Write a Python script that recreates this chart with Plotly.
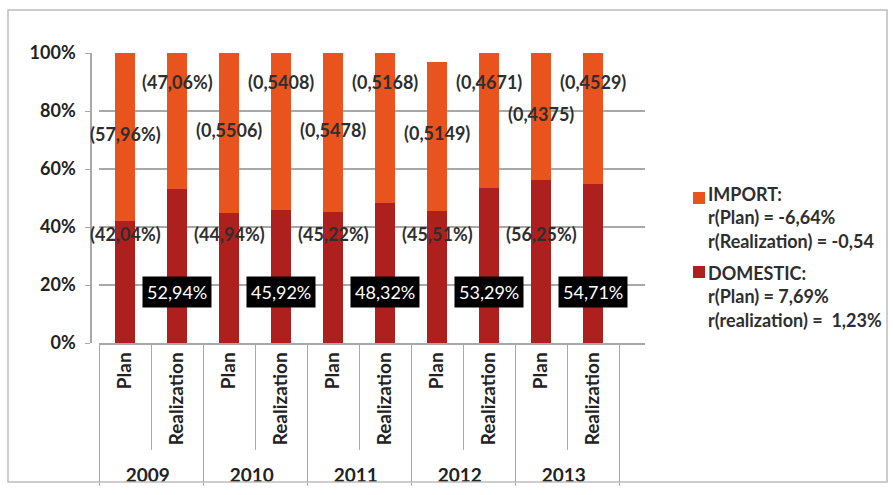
import plotly.graph_objects as go

# ---- data ----
years = ["2009", "2009", "2010", "2010", "2011", "2011", "2012", "2012", "2013", "2013"]
kinds = ["Plan", "Realization"] * 5
domestic = [42.04, 52.94, 44.94, 45.92, 45.22, 48.32, 45.51, 53.29, 56.25, 54.71]
imports = [57.96, 47.06, 55.06, 54.08, 54.78, 51.68, 51.49, 46.71, 43.75, 45.29]
domestic_text = ["(42,04%)", "52,94%", "(44,94%)", "45,92%", "(45,22%)", "48,32%",
                 "(45,51%)", "53,29%", "(56,25%)", "54,71%"]
import_text = ["(57,96%)", "(47,06%)", "(0,5506)", "(0,5408)", "(0,5478)", "(0,5168)",
               "(0,5149)", "(0,4671)", "(0,4375)", "(0,4529)"]
legend_import = ["IMPORT:", "r(Plan) = -6,64%", "r(Realization) = -0,54"]
legend_domestic = ["DOMESTIC:", "r(Plan) = 7,69%", "r(realization) =  1,23%"]
y_ticks = [0, 20, 40, 60, 80, 100]
y_tick_labels = ["0%", "20%", "40%", "60%", "80%", "100%"]

# ---- layout constants (pixels) ----
W, H = 893, 495
L, R, T, B = 91, 248, 53, 152
PW, PH = W - L - R, H - T - B
X0 = 99  # left edge of category area
FONT = "Lato, 'Open Sans', sans-serif"
C_IMP = "#E9531D"
C_DOM = "#AE201E"
TXT = "#2E2E2E"
GRID = "#A8A8A8"


def px_x(p):
    return (p - L) / PW


def px_y(p):
    return (H - B - p) / PH


def bold(s):
    return "<b>" + s + "</b>"


x = [[bold(v) for v in years], [bold(v) for v in kinds]]

fig = go.Figure()
fig.add_trace(go.Bar(x=x, y=domestic, name="DOMESTIC", marker=dict(color=C_DOM, line=dict(width=0))))
fig.add_trace(go.Bar(x=x, y=imports, name="IMPORT", marker=dict(color=C_IMP, line=dict(width=0))))

# data labels
for i in range(len(domestic)):
    total = domestic[i] + imports[i]
    if kinds[i] == "Plan":
        fig.add_annotation(x=i, y=37.5, xref="x", yref="y", text=bold(domestic_text[i]), showarrow=False,
                           font=dict(family=FONT, size=18, color=TXT))
        fig.add_annotation(x=i, y=domestic[i] + imports[i] / 2 + 1, xref="x", yref="y",
                           text=bold(import_text[i]), showarrow=False,
                           font=dict(family=FONT, size=18, color=TXT))
    else:
        fig.add_annotation(x=i, y=17.5, xref="x", yref="y", text=domestic_text[i], showarrow=False,
                           font=dict(family=FONT, size=18, color="white"),
                           bgcolor="black", borderpad=4)
        fig.add_annotation(x=i, y=total - 10, xref="x", yref="y", text=bold(import_text[i]),
                           showarrow=False, font=dict(family=FONT, size=18, color=TXT))

# manual legend (squares + text)
for color, lines, sq_top, text_mid in [(C_IMP, legend_import, 192, 217),
                                        (C_DOM, legend_domestic, 266, 296)]:
    fig.add_shape(type="rect", xref="paper", yref="paper",
                  x0=px_x(693), x1=px_x(705), y0=px_y(sq_top + 12), y1=px_y(sq_top),
                  line=dict(width=0), fillcolor=color)
    fig.add_annotation(xref="paper", yref="paper", x=px_x(706), y=px_y(text_mid),
                       xanchor="left", yanchor="middle", align="left", showarrow=False,
                       text="<br>".join(bold(s) for s in lines),
                       font=dict(family=FONT, size=18, color=TXT))

# outer chart border
fig.add_shape(type="rect", xref="paper", yref="paper",
              x0=px_x(8), x1=px_x(887), y0=px_y(482), y1=px_y(10),
              line=dict(color="#BDBDBD", width=1.5), fillcolor="rgba(0,0,0,0)", layer="above")

fig.update_layout(
    width=W, height=H,
    margin=dict(l=L, r=R, t=T, b=B),
    paper_bgcolor="white", plot_bgcolor="white",
    barmode="stack", bargap=0.6,
    showlegend=False,
    font=dict(family=FONT, color=TXT),
    xaxis=dict(type="multicategory", domain=[px_x(X0), 1], range=[-0.5, 10.0],
               tickangle=-90, showdividers=True, dividercolor=GRID,
               dividerwidth=1, tickson="boundaries", ticks="outside", ticklen=105,
               tickcolor=GRID, showline=True, linecolor=GRID, linewidth=1.5,
               tickfont=dict(family=FONT, size=19, color="#222222"), automargin=False),
    yaxis=dict(range=[0, 100], tickvals=y_ticks, ticktext=[bold(t) for t in y_tick_labels],
               anchor="free", position=0, automargin=False,
               showgrid=True, gridcolor=GRID, gridwidth=1.5,
               showline=True, linecolor=GRID, linewidth=1.5, ticks="outside", ticklen=5,
               tickcolor=GRID, zeroline=False, ticklabelstandoff=6,
               tickfont=dict(family=FONT, size=18, color="#222222")),
)

fig.write_html("out.html", config={"displayModeBar": False},
               post_script="document.body.style.margin='0';")
